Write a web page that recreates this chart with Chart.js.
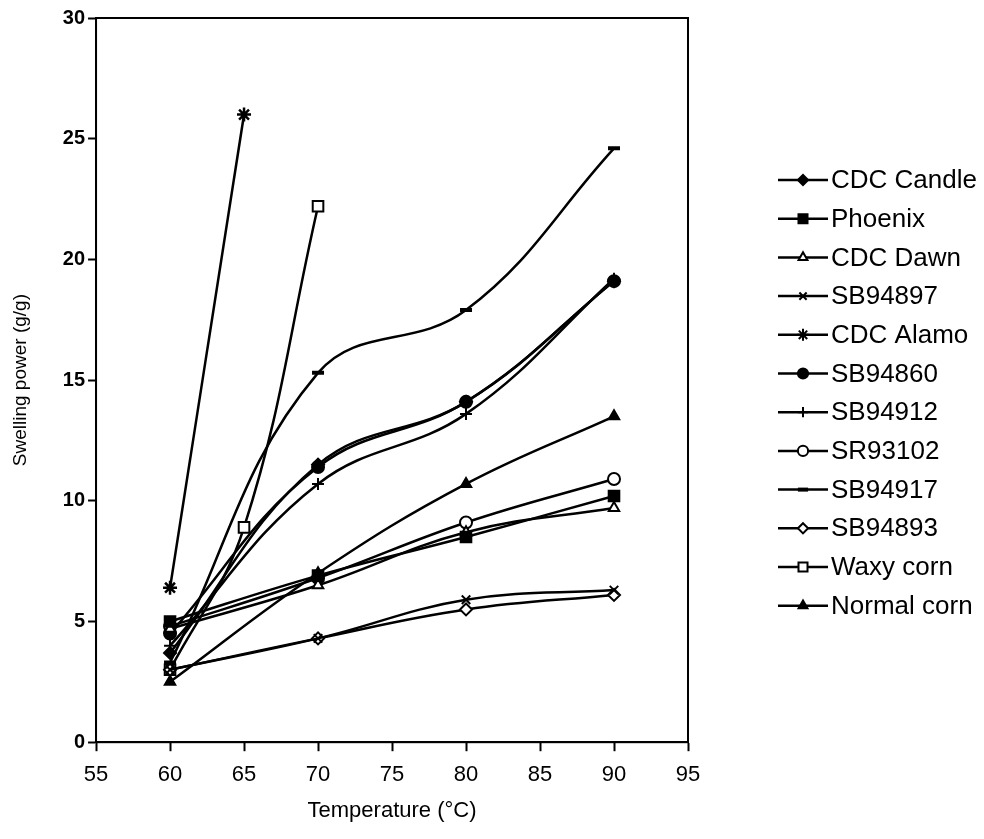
<!DOCTYPE html>
<html>
<head>
<meta charset="utf-8">
<title>Swelling power</title>
<script src="https://cdn.jsdelivr.net/npm/chart.js@4/dist/chart.umd.min.js"></script>
<style>
  html, body { margin: 0; padding: 0; background: #fff; }
</style>
</head>
<body>
<canvas id="chartCanvas" width="984" height="839"></canvas>
<script>
// temperatures (°C)
const temps = [60, 70, 80, 90];
const tempsAlamo = [60, 65];
const tempsWaxy = [60, 65, 70];

// swelling power (g/g)
const cdcCandle  = [3.7, 11.5, 14.1, 19.1];
const phoenix    = [5.0, 6.9, 8.5, 10.2];
const cdcDawn    = [4.7, 6.5, 8.7, 9.7];
const sb94897    = [3.0, 4.3, 5.9, 6.3];
const cdcAlamo   = [6.4, 26.0];
const sb94860    = [4.5, 11.4, 14.1, 19.1];
const sb94912    = [4.0, 10.7, 13.6, 19.2];
const sr93102    = [4.8, 6.8, 9.1, 10.9];
const sb94917    = [3.3, 15.3, 17.9, 24.6];
const sb94893    = [3.0, 4.3, 5.5, 6.1];
const waxyCorn   = [3.0, 8.9, 22.2];
const normalCorn = [2.5, 7.0, 10.7, 13.5];

const xTicks = [55, 60, 65, 70, 75, 80, 85, 90, 95];
const yTicks = [0, 5, 10, 15, 20, 25, 30];

// label, x values, y values, marker, filled?
const series = [
  ['CDC Candle',  temps,      cdcCandle,  'rectRot',  true],
  ['Phoenix',     temps,      phoenix,    'rect',     true],
  ['CDC Dawn',    temps,      cdcDawn,    'triangle', false],
  ['SB94897',     temps,      sb94897,    'crossRot', false],
  ['CDC Alamo',   tempsAlamo, cdcAlamo,   'star',     false],
  ['SB94860',     temps,      sb94860,    'circle',   true],
  ['SB94912',     temps,      sb94912,    'cross',    false],
  ['SR93102',     temps,      sr93102,    'circle',   false],
  ['SB94917',     temps,      sb94917,    'line',     false],
  ['SB94893',     temps,      sb94893,    'rectRot',  false],
  ['Waxy corn',   tempsWaxy,  waxyCorn,   'rect',     false],
  ['Normal corn', temps,      normalCorn, 'triangle', true]
];

function markerSize(style) {
  if (style === 'rect') return 7.5;
  if (style === 'star') return 7;
  return 6;
}

const datasets = series.map(([label, xs, ys, style, filled]) => ({
  label: label,
  data: xs.map((x, i) => ({ x: x, y: ys[i] })),
  showLine: true,
  tension: 0.4,
  borderColor: '#000',
  borderWidth: 2.5,
  pointStyle: style,
  pointRadius: markerSize(style),
  pointBorderWidth: style === 'line' ? 4 : (style === 'star' ? 2.5 : 2),
  pointBorderColor: '#000',
  pointBackgroundColor: filled ? '#000' : '#fff'
}));

// frame around the plot area
const frame = {
  id: 'frame',
  afterDatasetsDraw(chart) {
    const a = chart.chartArea;
    const ctx = chart.ctx;
    ctx.save();
    ctx.strokeStyle = '#000';
    ctx.lineWidth = 2;
    ctx.strokeRect(a.left, a.top, a.right - a.left, a.bottom - a.top);
    ctx.restore();
  }
};

// legend: short line with the series marker, then the name
const sideLegend = {
  id: 'sideLegend',
  afterDraw(chart) {
    const ctx = chart.ctx;
    const x0 = 778, x1 = 828, top = 180, step = 38.7;
    ctx.save();
    chart.data.datasets.forEach((ds, i) => {
      const y = top + i * step;
      ctx.strokeStyle = '#000';
      ctx.lineWidth = 2.5;
      ctx.beginPath();
      ctx.moveTo(x0, y);
      ctx.lineTo(x1, y);
      ctx.stroke();
      ctx.fillStyle = ds.pointBackgroundColor;
      ctx.strokeStyle = '#000';
      ctx.lineWidth = ds.pointStyle === 'line' ? 4 : 2;
      Chart.helpers.drawPoint(ctx, {
        pointStyle: ds.pointStyle,
        radius: ds.pointRadius * 0.85,
        rotation: 0,
        borderWidth: ds.pointBorderWidth
      }, (x0 + x1) / 2, y);
      ctx.fillStyle = '#000';
      ctx.font = '26px "Liberation Sans", Arial, sans-serif';
      ctx.textBaseline = 'middle';
      ctx.textAlign = 'left';
      ctx.fillText(ds.label, x1 + 3, y + 1);
    });
    ctx.restore();
  }
};

const ctx = document.getElementById('chartCanvas').getContext('2d');
const chart = new Chart(ctx, {
  type: 'scatter',
  data: { datasets: datasets },
  plugins: [frame, sideLegend],
  options: {
    responsive: false,
    animation: false,
    layout: { padding: { left: 0, right: 296, top: 18, bottom: 15 } },
    plugins: {
      legend: { display: false },
      tooltip: { enabled: false }
    },
    scales: {
      x: {
        type: 'linear',
        min: 55,
        max: 95,
        afterBuildTicks: axis => { axis.ticks = xTicks.map(v => ({ value: v })); },
        ticks: {
          color: '#000',
          padding: 11,
          font: { family: '"Liberation Sans", Arial, sans-serif', size: 22 }
        },
        grid: { drawOnChartArea: false, tickLength: 9, tickColor: '#000', tickWidth: 2 },
        border: { color: '#000', width: 2 },
        title: {
          display: true,
          text: 'Temperature (°C)',
          color: '#000',
          font: { family: '"Liberation Sans", Arial, sans-serif', size: 22 },
          padding: { top: -2, bottom: 0 }
        }
      },
      y: {
        type: 'linear',
        min: 0,
        max: 30,
        afterBuildTicks: axis => { axis.ticks = yTicks.map(v => ({ value: v })); },
        ticks: {
          color: '#000',
          padding: 3,
          font: { family: '"Liberation Sans", Arial, sans-serif', size: 20, weight: 'bold' }
        },
        grid: { drawOnChartArea: false, tickLength: 8, tickColor: '#000', tickWidth: 2 },
        border: { color: '#000', width: 2 },
        title: {
          display: true,
          text: 'Swelling power (g/g)',
          color: '#000',
          font: { family: '"Liberation Sans", Arial, sans-serif', size: 19 },
          padding: { top: 9, bottom: 28 }
        }
      }
    }
  }
});
</script>
</body>
</html>
